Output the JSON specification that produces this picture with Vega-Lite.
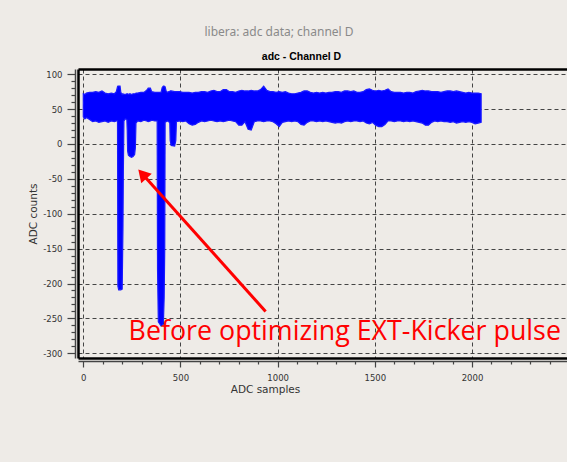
{
  "$schema": "https://vega.github.io/schema/vega-lite/v6.json",
  "width": 489,
  "height": 289,
  "autosize": "none",
  "padding": {"left": 78, "top": 69, "right": 0, "bottom": 104},
  "background": "#eeebe7",
  "title": {"text": "libera: adc data; channel D", "color": "#8a8a8a", "font": "Noto Sans", "fontSize": 12, "fontWeight": "normal", "anchor": "middle", "dx": -43.5, "offset": 12},
  "config": {"view": {"stroke": null}},
  "datasets": {
    "band": [
      {"x": 0, "lo": 39, "hi": 72}, {"x": 8, "lo": 36, "hi": 71}, {"x": 16, "lo": 38, "hi": 73}, {"x": 32, "lo": 35, "hi": 74},
      {"x": 48, "lo": 32, "hi": 74}, {"x": 64, "lo": 33, "hi": 75}, {"x": 80, "lo": 31, "hi": 74}, {"x": 96, "lo": 32, "hi": 76},
      {"x": 112, "lo": 33, "hi": 73}, {"x": 128, "lo": 31, "hi": 72}, {"x": 144, "lo": 33, "hi": 73}, {"x": 160, "lo": 32, "hi": 72},
      {"x": 170, "lo": 33, "hi": 75}, {"x": 176, "lo": 33, "hi": 82}, {"x": 178, "lo": -204, "hi": 83}, {"x": 182, "lo": -209, "hi": 83},
      {"x": 189, "lo": -209, "hi": 83}, {"x": 193, "lo": -209, "hi": 74}, {"x": 200, "lo": -208, "hi": 71}, {"x": 204, "lo": -120, "hi": 72},
      {"x": 206, "lo": -40, "hi": 71}, {"x": 209, "lo": 33, "hi": 71}, {"x": 216, "lo": 36, "hi": 71}, {"x": 224, "lo": 35, "hi": 72},
      {"x": 226, "lo": 20, "hi": 72}, {"x": 228, "lo": -10, "hi": 72}, {"x": 232, "lo": -16, "hi": 71}, {"x": 240, "lo": -18, "hi": 72},
      {"x": 248, "lo": -19, "hi": 71}, {"x": 256, "lo": -18, "hi": 72}, {"x": 264, "lo": -15, "hi": 72}, {"x": 268, "lo": -5, "hi": 72},
      {"x": 271, "lo": 30, "hi": 73}, {"x": 280, "lo": 33, "hi": 73}, {"x": 296, "lo": 32, "hi": 74}, {"x": 312, "lo": 34, "hi": 74},
      {"x": 326, "lo": 33, "hi": 77}, {"x": 334, "lo": 32, "hi": 80}, {"x": 345, "lo": 33, "hi": 80}, {"x": 352, "lo": 34, "hi": 75},
      {"x": 368, "lo": 33, "hi": 74}, {"x": 380, "lo": 33, "hi": 74}, {"x": 382, "lo": -180, "hi": 74}, {"x": 386, "lo": -255, "hi": 74},
      {"x": 400, "lo": -261, "hi": 74}, {"x": 406, "lo": -260, "hi": 81}, {"x": 412, "lo": -258, "hi": 83}, {"x": 416, "lo": -220, "hi": 83},
      {"x": 419, "lo": -150, "hi": 82}, {"x": 421, "lo": 31, "hi": 82}, {"x": 426, "lo": 32, "hi": 76}, {"x": 432, "lo": 33, "hi": 74},
      {"x": 440, "lo": 32, "hi": 75}, {"x": 445, "lo": 30, "hi": 75}, {"x": 447, "lo": 5, "hi": 76}, {"x": 452, "lo": -2, "hi": 76},
      {"x": 470, "lo": -3, "hi": 75}, {"x": 476, "lo": 5, "hi": 75}, {"x": 479, "lo": 32, "hi": 75}, {"x": 496, "lo": 33, "hi": 75},
      {"x": 512, "lo": 32, "hi": 74}, {"x": 528, "lo": 33, "hi": 74}, {"x": 544, "lo": 29, "hi": 74}, {"x": 560, "lo": 27, "hi": 73},
      {"x": 576, "lo": 28, "hi": 74}, {"x": 592, "lo": 31, "hi": 74}, {"x": 608, "lo": 33, "hi": 75}, {"x": 624, "lo": 32, "hi": 75},
      {"x": 640, "lo": 33, "hi": 74}, {"x": 656, "lo": 34, "hi": 76}, {"x": 672, "lo": 33, "hi": 77}, {"x": 688, "lo": 32, "hi": 75},
      {"x": 704, "lo": 33, "hi": 75}, {"x": 720, "lo": 32, "hi": 78}, {"x": 736, "lo": 33, "hi": 78}, {"x": 752, "lo": 34, "hi": 75},
      {"x": 768, "lo": 33, "hi": 75}, {"x": 784, "lo": 32, "hi": 74}, {"x": 800, "lo": 27, "hi": 76}, {"x": 816, "lo": 27, "hi": 77},
      {"x": 832, "lo": 32, "hi": 76}, {"x": 848, "lo": 21, "hi": 76}, {"x": 864, "lo": 20, "hi": 77}, {"x": 880, "lo": 32, "hi": 76},
      {"x": 896, "lo": 33, "hi": 76}, {"x": 912, "lo": 33, "hi": 78}, {"x": 928, "lo": 32, "hi": 83}, {"x": 944, "lo": 33, "hi": 77},
      {"x": 960, "lo": 33, "hi": 75}, {"x": 976, "lo": 32, "hi": 75}, {"x": 992, "lo": 29, "hi": 74}, {"x": 1008, "lo": 25, "hi": 75},
      {"x": 1024, "lo": 31, "hi": 74}, {"x": 1040, "lo": 32, "hi": 75}, {"x": 1056, "lo": 33, "hi": 73}, {"x": 1072, "lo": 32, "hi": 72},
      {"x": 1088, "lo": 33, "hi": 72}, {"x": 1104, "lo": 32, "hi": 73}, {"x": 1120, "lo": 28, "hi": 74}, {"x": 1136, "lo": 27, "hi": 76},
      {"x": 1152, "lo": 31, "hi": 76}, {"x": 1168, "lo": 33, "hi": 74}, {"x": 1184, "lo": 33, "hi": 73}, {"x": 1200, "lo": 32, "hi": 74},
      {"x": 1216, "lo": 33, "hi": 73}, {"x": 1232, "lo": 32, "hi": 74}, {"x": 1248, "lo": 33, "hi": 73}, {"x": 1264, "lo": 32, "hi": 74},
      {"x": 1280, "lo": 31, "hi": 74}, {"x": 1296, "lo": 30, "hi": 75}, {"x": 1312, "lo": 31, "hi": 75}, {"x": 1328, "lo": 30, "hi": 74},
      {"x": 1344, "lo": 32, "hi": 76}, {"x": 1360, "lo": 33, "hi": 76}, {"x": 1376, "lo": 32, "hi": 75}, {"x": 1392, "lo": 33, "hi": 76},
      {"x": 1408, "lo": 33, "hi": 74}, {"x": 1424, "lo": 32, "hi": 74}, {"x": 1440, "lo": 33, "hi": 75}, {"x": 1456, "lo": 30, "hi": 78},
      {"x": 1472, "lo": 29, "hi": 79}, {"x": 1488, "lo": 31, "hi": 77}, {"x": 1504, "lo": 27, "hi": 76}, {"x": 1520, "lo": 25, "hi": 77},
      {"x": 1536, "lo": 25, "hi": 76}, {"x": 1552, "lo": 28, "hi": 77}, {"x": 1568, "lo": 33, "hi": 79}, {"x": 1584, "lo": 33, "hi": 75},
      {"x": 1600, "lo": 32, "hi": 74}, {"x": 1616, "lo": 33, "hi": 74}, {"x": 1632, "lo": 33, "hi": 74}, {"x": 1648, "lo": 32, "hi": 73},
      {"x": 1664, "lo": 33, "hi": 74}, {"x": 1680, "lo": 32, "hi": 74}, {"x": 1696, "lo": 33, "hi": 73}, {"x": 1712, "lo": 32, "hi": 75},
      {"x": 1728, "lo": 31, "hi": 76}, {"x": 1744, "lo": 30, "hi": 77}, {"x": 1760, "lo": 27, "hi": 76}, {"x": 1776, "lo": 27, "hi": 76},
      {"x": 1792, "lo": 31, "hi": 75}, {"x": 1808, "lo": 33, "hi": 75}, {"x": 1824, "lo": 32, "hi": 75}, {"x": 1840, "lo": 33, "hi": 74},
      {"x": 1856, "lo": 32, "hi": 75}, {"x": 1872, "lo": 32, "hi": 76}, {"x": 1888, "lo": 31, "hi": 76}, {"x": 1904, "lo": 32, "hi": 75},
      {"x": 1920, "lo": 30, "hi": 76}, {"x": 1936, "lo": 31, "hi": 75}, {"x": 1952, "lo": 32, "hi": 74}, {"x": 1968, "lo": 31, "hi": 73},
      {"x": 1984, "lo": 32, "hi": 74}, {"x": 2000, "lo": 31, "hi": 73}, {"x": 2016, "lo": 29, "hi": 73}, {"x": 2032, "lo": 30, "hi": 73},
      {"x": 2047, "lo": 31, "hi": 72}
    ],
    "arrow": [{"x": 938, "y": -240, "x2": 304, "y2": -43}],
    "note": [{"x": 233, "y": -281, "text": "Before optimizing EXT-Kicker pulse"}]
  },
  "resolve": {"axis": {"x": "independent", "y": "independent"}},
  "layer": [
    {
      "data": {"name": "band"},
      "mark": {"type": "area", "color": "#0000ff", "stroke": "#1a1aff", "strokeWidth": 1.2, "interpolate": "linear"},
      "encoding": {
        "x": {"field": "x", "type": "quantitative",
          "scale": {"domain": [-27.3, 2488.8], "nice": false, "zero": false},
          "axis": {"orient": "bottom", "offset": 3,
            "values": [0,100,200,300,400,500,600,700,800,900,1000,1100,1200,1300,1400,1500,1600,1700,1800,1900,2000,2100,2200,2300,2400,2500],
            "labelExpr": "datum.value % 500 === 0 ? '' + datum.value : ''",
            "labelFlush": false, "labelOverlap": false, "labelFont": "DejaVu Sans", "labelFontSize": 8.5, "labelColor": "#333", "labelPadding": 6,
            "tickSize": {"condition": {"test": "datum.value % 500 === 0", "value": 6}, "value": 3},
            "tickColor": "#444", "tickWidth": 1.2, "domainColor": "#444", "domainWidth": 1.5,
            "grid": true, "gridColor": "#444", "gridDash": [4, 3], "gridWidth": 1,
            "gridOpacity": {"condition": {"test": "datum.value % 500 === 0", "value": 1}, "value": 0},
            "title": "ADC samples", "titleFont": "DejaVu Sans", "titleFontSize": 10.5, "titleFontWeight": "normal", "titleColor": "#333", "titleX": 187, "titlePadding": 3}},
        "y": {"field": "lo", "type": "quantitative",
          "scale": {"domain": [-306.8, 107.5], "nice": false, "zero": false},
          "axis": {"orient": "left", "offset": 3,
            "values": [-300,-290,-280,-270,-260,-250,-240,-230,-220,-210,-200,-190,-180,-170,-160,-150,-140,-130,-120,-110,-100,-90,-80,-70,-60,-50,-40,-30,-20,-10,0,10,20,30,40,50,60,70,80,90,100],
            "labelExpr": "datum.value % 50 === 0 ? '' + datum.value : ''",
            "labelFlush": false, "labelOverlap": false, "labelFont": "DejaVu Sans", "labelFontSize": 8.5, "labelColor": "#333", "labelPadding": 5,
            "tickSize": {"condition": {"test": "datum.value % 50 === 0", "value": 8}, "value": 4},
            "tickColor": "#444", "tickWidth": 1.2, "domainColor": "#444", "domainWidth": 1.5,
            "grid": true, "gridColor": "#444", "gridDash": [4, 3], "gridWidth": 1,
            "gridOpacity": {"condition": {"test": "datum.value % 50 === 0", "value": 1}, "value": 0},
            "title": "ADC counts", "titleFont": "DejaVu Sans", "titleFontSize": 10.5, "titleFontWeight": "normal", "titleColor": "#333", "titlePadding": 4}},
        "y2": {"field": "hi"}
      }
    },
    {
      "data": {"name": "arrow"},
      "mark": {"type": "rule", "color": "#ff0000", "strokeWidth": 3},
      "encoding": {
        "x": {"field": "x", "type": "quantitative", "scale": {"domain": [-27.3, 2488.8], "nice": false, "zero": false},
          "axis": {"orient": "bottom", "offset": 0, "domainColor": "#000000", "domainWidth": 2.5, "ticks": false, "labels": false, "grid": false, "title": null, "zindex": 2}},
        "y": {"field": "y", "type": "quantitative", "scale": {"domain": [-306.8, 107.5], "nice": false, "zero": false}, "axis": null},
        "x2": {"field": "x2"},
        "y2": {"field": "y2"}
      }
    },
    {
      "data": {"name": "arrow"},
      "mark": {"type": "point", "shape": "triangle-up", "filled": true, "color": "#ff0000", "opacity": 1, "size": 200, "angle": 318},
      "encoding": {
        "x": {"field": "x2", "type": "quantitative", "scale": {"domain": [-27.3, 2488.8], "nice": false, "zero": false}, "axis": null},
        "y": {"field": "y2", "type": "quantitative", "scale": {"domain": [-306.8, 107.5], "nice": false, "zero": false},
          "axis": {"orient": "left", "offset": 0, "domainColor": "#000000", "domainWidth": 2.5, "ticks": false, "labels": false, "grid": false, "title": null, "zindex": 2}}
      }
    },
    {
      "data": {"name": "note"},
      "mark": {"type": "text", "color": "#ff0000", "font": "Open Sans", "fontSize": 26.8, "align": "left", "baseline": "alphabetic"},
      "encoding": {
        "x": {"field": "x", "type": "quantitative", "scale": {"domain": [-27.3, 2488.8], "nice": false, "zero": false},
          "axis": {"orient": "top", "offset": 0, "domainColor": "#000000", "domainWidth": 2.5, "ticks": false, "labels": false, "grid": false, "zindex": 2,
            "title": "adc - Channel D", "titleFont": "Liberation Sans", "titleFontSize": 10.5, "titleFontWeight": "bold", "titleColor": "#000000", "titleX": 223, "titlePadding": 8}},
        "y": {"field": "y", "type": "quantitative", "scale": {"domain": [-306.8, 107.5], "nice": false, "zero": false}, "axis": null},
        "text": {"field": "text"}
      }
    }
  ]
}
